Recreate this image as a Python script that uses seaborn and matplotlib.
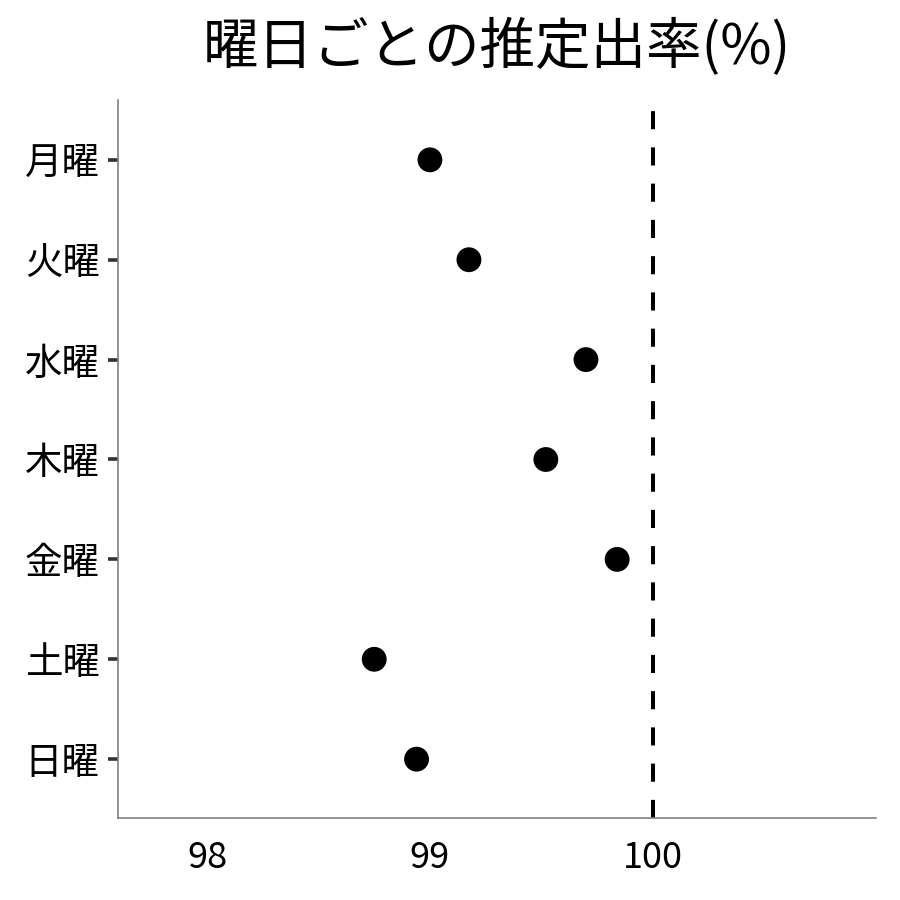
import pandas as pd
import numpy as np
import matplotlib.pyplot as plt
import seaborn as sns

days = ['月曜', '火曜', '水曜', '木曜', '金曜', '土曜', '日曜']
rates = [99.0, 99.175, 99.70, 99.52, 99.84, 98.75, 98.94]
ref_line = 100
x_ticks = [98, 99, 100]

df = pd.DataFrame({'day': days, 'rate': rates})

sns.set_style('white')
plt.rcParams['font.family'] = ['Noto Sans CJK JP', 'DejaVu Sans']
plt.rcParams['text.color'] = 'black'
plt.rcParams['xtick.labelcolor'] = 'black'
plt.rcParams['ytick.labelcolor'] = 'black'

fig, ax = plt.subplots(figsize=(9, 9), dpi=100)
fig.subplots_adjust(left=0.131, right=0.973, top=0.889, bottom=0.091)

sns.scatterplot(data=df, x='rate', y='day', color='black', s=320, edgecolor='none', ax=ax, zorder=3)
ax.axvline(ref_line, color='black', linestyle=(0, (4.5, 4.5)), linewidth=2.9, zorder=2)

ax.set_xlim(97.6, 101.0)
ax.set_ylim(6.59, -0.6)
ax.set_xticks(x_ticks)
ax.set_xticklabels([str(t) for t in x_ticks])
ax.set_xlabel('')
ax.set_ylabel('')
ax.set_title('曜日ごとの推定出率(%)', fontsize=40, pad=26, color='black')

sns.despine(ax=ax)
for side in ['left', 'bottom']:
    ax.spines[side].set_color('#808080')
    ax.spines[side].set_linewidth(1.2)
ax.tick_params(axis='y', length=7, width=2.6, color='#333333', labelsize=27, pad=6, left=True)
ax.tick_params(axis='x', length=0, labelsize=26, pad=16, bottom=False)

plt.savefig('out.png', dpi=100)
